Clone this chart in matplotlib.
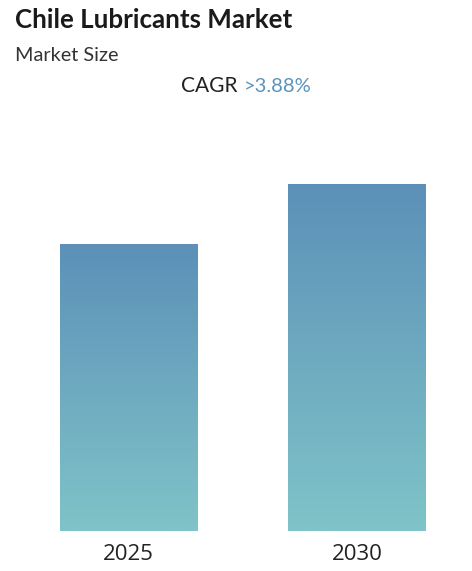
import numpy as np
import matplotlib
matplotlib.use("Agg")
import matplotlib.pyplot as plt
from matplotlib.colors import LinearSegmentedColormap

# Data
years = ["2025", "2030"]
values = [100.0, 121.0]  # relative market size index (CAGR >3.88%)
title = "Chile Lubricants Market"
subtitle = "Market Size"
cagr_label = "CAGR "
cagr_value = ">3.88%"

W, H = 472, 571
fig = plt.figure(figsize=(W / 100, H / 100), dpi=100)
fig.patch.set_facecolor("white")

# axes: bottom at y=531.5px, top at y=100px, full width
ax_bottom = 1 - 531.5 / H
ax_top = 1 - 100 / H
ax = fig.add_axes([0, ax_bottom, 1, ax_top - ax_bottom])
ax.set_facecolor("none")

x = np.arange(len(years))
bar_w = 0.6
bars = ax.bar(x, values, width=bar_w, color="none", edgecolor="none")

ymax = values[0] * 431.5 / 287.5
xlim = ((0 - 128.5) / 228.5, (472 - 128.5) / 228.5)

cmap = LinearSegmentedColormap.from_list("g", ["#7fc4c8", "#5c90b8"])
grad = np.linspace(0, 1, 256).reshape(-1, 1)
for b in bars:
    x0, w, h = b.get_x(), b.get_width(), b.get_height()
    im = ax.imshow(grad, cmap=cmap, origin="lower", aspect="auto",
                   extent=[x0, x0 + w, 0, h], zorder=2)
    im.set_clip_path(b)
ax.set_xlim(*xlim)
ax.set_ylim(0, ymax)

ax.set_xticks(x)
ax.set_xticklabels(years, fontsize=16, family="Open Sans", color="#222222")
ax.tick_params(axis="x", length=0, pad=9)
ax.set_yticks([])
for s in ax.spines.values():
    s.set_visible(False)

fig.text(15 / W, 1 - 28.5 / H, title, fontsize=18.6, fontweight="bold",
         family="Lato", color="#1a1a1a", va="baseline", ha="left")
fig.text(15 / W, 1 - 61 / H, subtitle, fontsize=14.3, family="Lato",
         color="#333333", va="baseline", ha="left")
fig.text(243 / W, 1 - 92 / H, cagr_label, fontsize=15, family="Lato",
         color="#222222", va="baseline", ha="right")
fig.text(244 / W, 1 - 92 / H, cagr_value, fontsize=14.5, family="Lato",
         color="#5b93bd", va="baseline", ha="left")

fig.savefig("out.png", dpi=100, facecolor="white")
